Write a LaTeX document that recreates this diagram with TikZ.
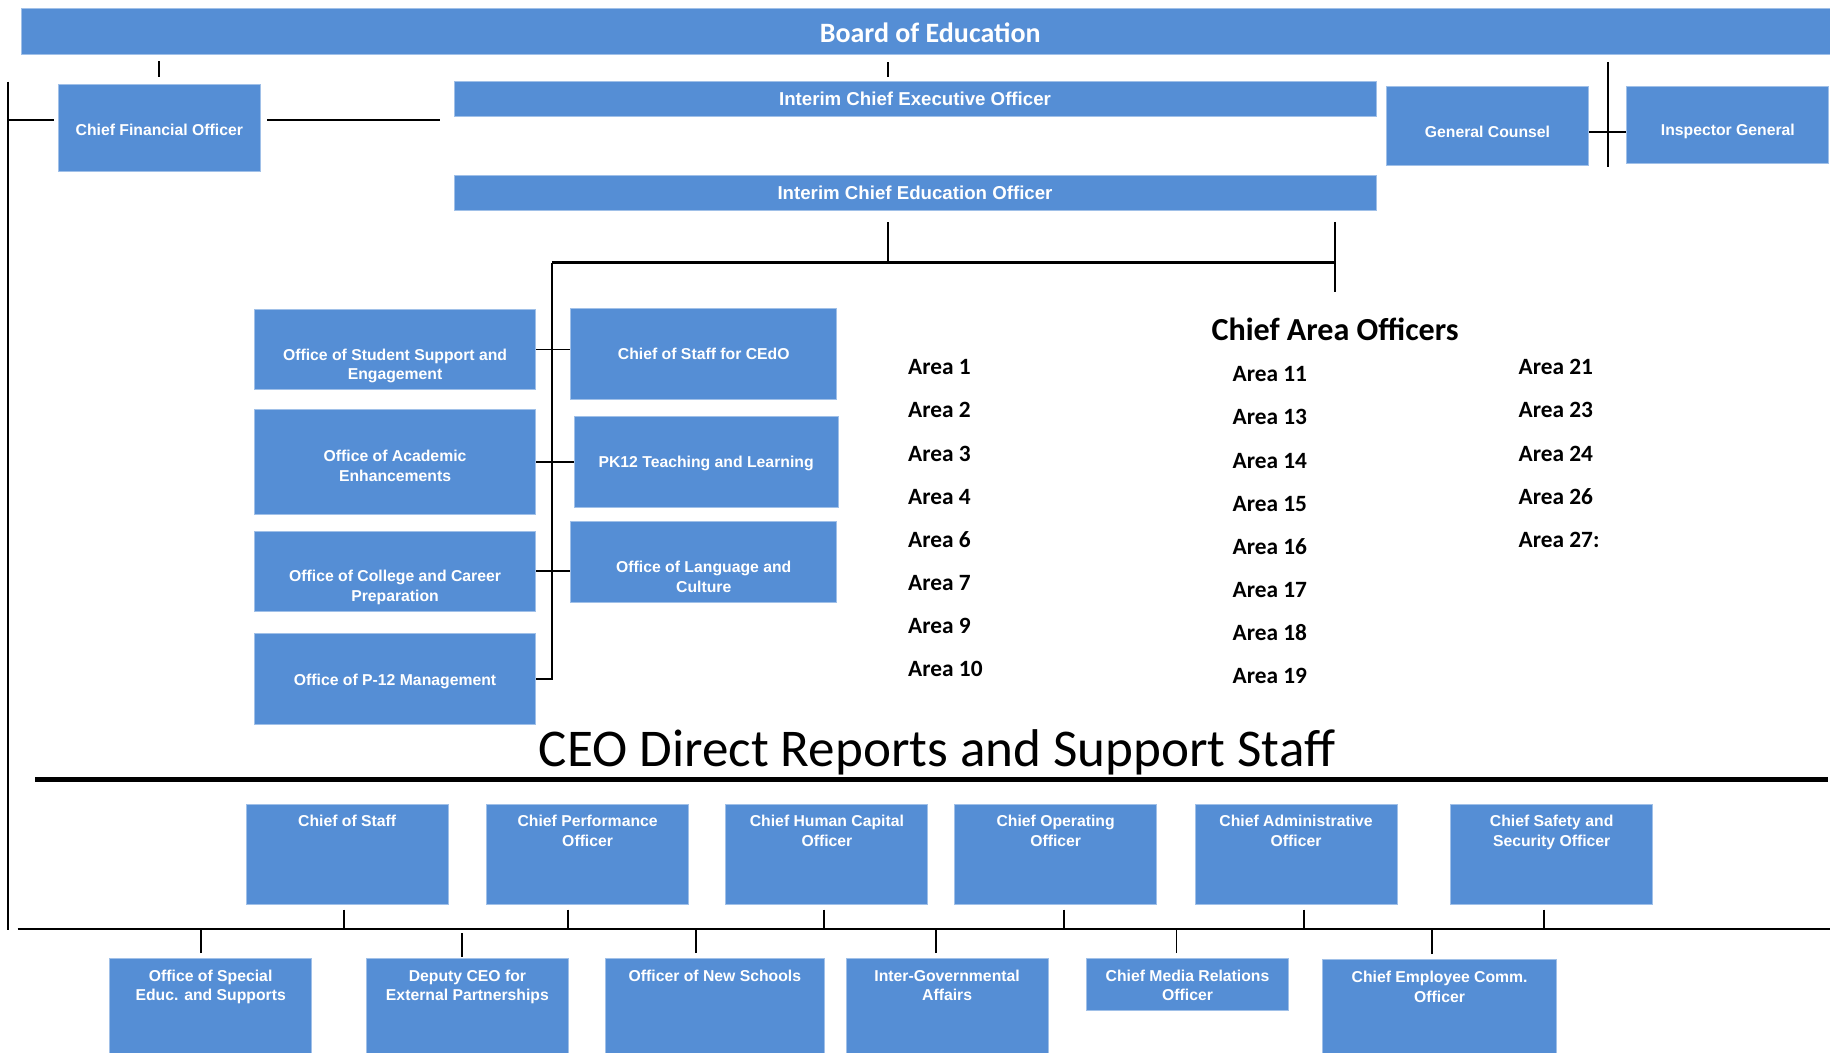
\documentclass[tikz,border=0pt]{standalone}
\usepackage{fontspec}
\setmainfont{Liberation Sans}
\newfontfamily\calibri{Carlito}
\definecolor{orgblue}{RGB}{85,142,213}
\definecolor{orgedge}{RGB}{160,192,232}
\begin{document}
\begin{tikzpicture}[x=1pt,y=-1pt,
    box/.style={fill=orgblue,draw=orgedge,line width=0.8pt,inner sep=0pt,
      text=white,align=center,font=\fontsize{13.5}{17}\selectfont\bfseries},
    boxtext/.style={inner sep=0pt,text=white,align=center,
      font=\fontsize{13.5}{17}\selectfont\bfseries},
    toptext/.style={boxtext,anchor=north,yshift=-10pt},
    wide/.style={font=\fontsize{16}{18}\selectfont\bfseries},
    area/.style={anchor=base west,inner sep=0pt,
      font=\calibri\bfseries\fontsize{20}{22}\selectfont},
    link/.style={line width=1.6pt}]
  \useasboundingbox (0,0) rectangle (1568,902);
  \clip (0,0) rectangle (1568,902);
  % top
  \node[box,minimum width=1550,minimum height=40] (board) at (793,27) {};
  \node[boxtext,font=\calibri\bfseries\fontsize{24}{26}\selectfont] (board-t) at (797,28) {Board of Education};
  \node[box,minimum width=173,minimum height=75] (cfo) at (136.5,109.5) {};
  \node[boxtext] (cfo-t) at ([yshift=-2pt]cfo.center) {Chief Financial Officer};
  \node[box,wide,minimum width=790,minimum height=30] (iceo) at (784,85) {Interim Chief Executive Officer};
  \node[box,wide,minimum width=790,minimum height=30] (icedo) at (784,165) {Interim Chief Education Officer};
  \node[box,minimum width=173,minimum height=68] (gc) at (1274.5,108) {};
  \node[boxtext] (gc-t) at ([yshift=-5pt]gc.center) {General Counsel};
  \node[box,minimum width=173,minimum height=66] (ig) at (1480.5,107) {};
  \node[boxtext] (ig-t) at ([yshift=-6pt]ig.center) {Inspector General};
  %
  \coordinate (frametop) at (7,70);
  \coordinate (framebot) at (7,797);
  \coordinate (cfoleft) at (46,103);
  \coordinate (cforight) at (229,103);
  \coordinate (cfoend) at (377,103);
  \coordinate (legal) at (1378,53);
  \draw[link] (frametop) -- (framebot);
  \draw[link] (frametop |- cfoleft) -- (cfoleft);
  \draw[link] (cforight) -- (cfoend);
  \draw[link] (cfo.north) ++(0,-6) -- ++(0,-13);
  \draw[link] (legal) -- ++(0,90);
  \draw[link] ([yshift=-5pt]gc.east) -- ([yshift=-5pt]gc.east -| ig.west);
  %
  \coordinate (split) at (473,225);
  \coordinate (hub) at (761,225);
  \coordinate (areas) at (1144,225);
  \draw[link] (board.south -| hub) ++(0,6) -- ++(0,13);
  \draw[link] (hub) -- ++(0,-35);
  \draw[link] (areas) ++(0,-35) -- ++(0,60);
  \draw[line width=2pt] (split) -- (areas);
  % education offices
  \node[box,minimum width=241,minimum height=69] (sse) at (338.5,299.5) {};
  \node[boxtext] (sse-t) at ([yshift=-14pt]sse.center) {Office of Student Support and\\Engagement};
  \node[box,minimum width=241,minimum height=90] (oae) at (338.5,396) {};
  \node[boxtext] (oae-t) at ([yshift=-3pt]oae.center) {Office of Academic\\Enhancements};
  \node[box,minimum width=241,minimum height=69] (occp) at (338.5,489.5) {};
  \node[boxtext] (occp-t) at ([yshift=-14pt]occp.center) {Office of College and Career\\Preparation};
  \node[box,minimum width=241,minimum height=78] (p12) at (338.5,582) {};
  \node[boxtext] (p12-t) at ([yshift=-2pt]p12.center) {Office of P-12 Management};
  %
  \node[box,minimum width=228,minimum height=78] (cosc) at (603,303) {Chief of Staff for CEdO};
  \node[box,minimum width=226,minimum height=78] (pk12) at (605,396) {};
  \node[boxtext] (pk12-t) at ([yshift=-1pt]pk12.center) {PK12 Teaching and Learning};
  \node[box,minimum width=228,minimum height=69] (olc) at (603,481.5) {};
  \node[boxtext] (olc-t) at ([yshift=-12.5pt]olc.center) {Office of Language and\\Culture};
  %
  \draw[line width=2pt] (split) |- (p12.east);
  \draw[link] (sse.east) -- (sse.east -| cosc.west);
  \draw[link] (oae.east) -- (oae.east -| pk12.west);
  \draw[link] (occp.east) -- (occp.east -| olc.west);
  % area officers
  \node[anchor=base,inner sep=0pt,font=\calibri\bfseries\fontsize{27.5}{29}\selectfont]
    (cao-title) at (1144,292) {Chief Area Officers};
  \foreach \n [count=\i] in {1,2,3,4,6,7,9,10}
    \node[area] (areaA-\i) at (778,{321+37*(\i-1)}) {Area \n};
  \foreach \n [count=\i] in {11,13,14,15,16,17,18,19}
    \node[area] (areaB-\i) at (1056,{327+37*(\i-1)}) {Area \n};
  \foreach \n [count=\i] in {21,23,24,26,27:}
    \node[area] (areaC-\i) at (1301,{321+37*(\i-1)}) {Area \n};
  % ceo direct reports
  \node[anchor=base,inner sep=0pt,font=\calibri\fontsize{45.5}{47}\selectfont]
    (ceo-title) at (803,657) {CEO Direct Reports and Support Staff};
  \coordinate (ruleL) at (30,668);
  \coordinate (ruleR) at (1566,668);
  \draw[line width=4pt] (ruleL) -- (ruleR);
  %
  \node[box,minimum width=173,minimum height=86,label={[toptext]north:Chief of Staff}] (cos) at (297.5,732) {};
  \node[box,minimum width=173,minimum height=86,label={[toptext]north:{Chief Performance\\Officer}}] (cpo) at (503.5,732) {};
  \node[box,minimum width=173,minimum height=86,label={[toptext]north:{Chief Human Capital\\Officer}}] (chco) at (708.5,732) {};
  \node[box,minimum width=173,minimum height=86,label={[toptext]north:{Chief Operating\\Officer}}] (coo) at (904.5,732) {};
  \node[box,minimum width=173,minimum height=86,label={[toptext]north:{Chief Administrative\\Officer}}] (cado) at (1110.5,732) {};
  \node[box,minimum width=173,minimum height=86,label={[toptext]north:{Chief Safety and\\Security Officer}}] (csso) at (1329.5,732) {};
  %
  \coordinate (busL) at (15,796);
  \coordinate (busR) at (1568,796);
  \draw[link] (busL) -- (busR);
  \foreach \b/\dx in {cos/-2.5,cpo/-16.5,chco/-2.5,coo/7.5,cado/6.5,csso/-6.5}
    \draw[link] ([xshift=\dx pt]\b.south) ++(0,4) -- ++(0,17);
  %
  \node[box,minimum width=173,minimum height=95,label={[toptext]north:{Office of Special\\Educ. and Supports}}] (ose) at (180.5,868.5) {};
  \node[box,minimum width=173,minimum height=95,label={[toptext]north:{Deputy CEO for\\External Partnerships}}] (dceo) at (400.5,868.5) {};
  \node[box,minimum width=187,minimum height=95,label={[toptext]north:Officer of New Schools}] (ons) at (612.5,868.5) {};
  \node[box,minimum width=173,minimum height=95,label={[toptext]north:{Inter-Governmental\\Affairs}}] (iga) at (811.5,868.5) {};
  \node[box,minimum width=173,minimum height=45,label={[toptext]north:{Chief Media Relations\\Officer}}] (cmro) at (1017.5,843.5) {};
  \node[box,minimum width=201,minimum height=95,label={[toptext]north:{Chief Employee Comm.\\Officer}}] (ceco) at (1233.5,869.5) {};
  %
  \foreach \b/\dx in {ose/-8.5,ons/-16.5,iga/-9.5,cmro/-9.5,ceco/-6.5}
    \draw[link] ([xshift=\dx pt]\b.north) ++(0,-4) -- ++(0,-21);
  \draw[link] ([xshift=-4.5pt]dceo.north) ++(0,-1) -- ++(0,-20);
\end{tikzpicture}
\end{document}
